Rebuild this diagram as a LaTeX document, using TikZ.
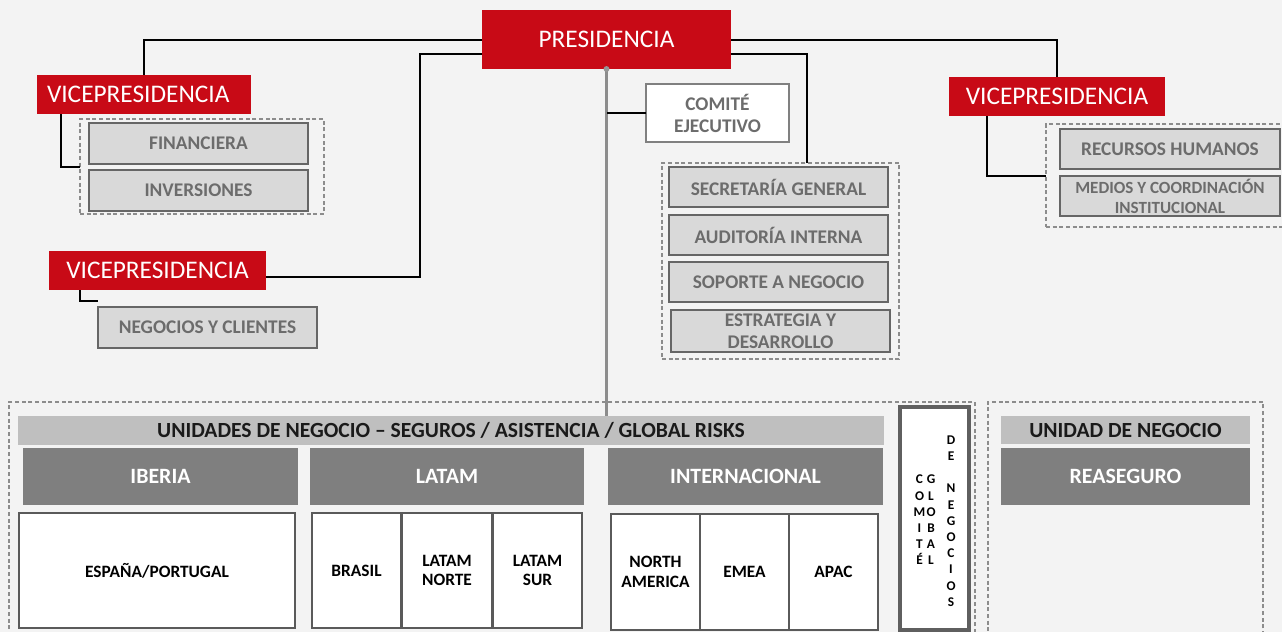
\documentclass[tikz,border=0pt]{standalone}
\usepackage{fontspec}
\setmainfont{Carlito}

\tikzset{every picture/.style={line width=0.75pt}}
\tikzset{
  vpbox/.style={fill={rgb, 255:red, 200; green, 10; blue, 22 }, text=white, inner sep=0pt, outer sep=0pt, font=\fontsize{19}{22}\selectfont},
  areabox/.style={draw={rgb, 255:red, 102; green, 102; blue, 102 }, line width=1.5pt, fill={rgb, 255:red, 217; green, 217; blue, 217 }, text={rgb, 255:red, 108; green, 108; blue, 108 }, inner sep=0pt, outer sep=0pt, align=center, font=\bfseries\fontsize{14.5}{16.5}\selectfont},
  grpbox/.style={draw={rgb, 255:red, 140; green, 140; blue, 140 }, line width=1.1pt, dash pattern={on 3pt off 2pt}, inner sep=0pt, outer sep=0pt},
  barbox/.style={fill={rgb, 255:red, 191; green, 191; blue, 191 }, text={rgb, 255:red, 26; green, 26; blue, 26 }, inner sep=0pt, outer sep=0pt, font=\bfseries\fontsize{16.2}{18}\selectfont},
  regionbox/.style={fill={rgb, 255:red, 127; green, 127; blue, 127 }, text=white, inner sep=0pt, outer sep=0pt, font=\bfseries\fontsize{16.4}{18}\selectfont},
  countrybox/.style={draw={rgb, 255:red, 90; green, 90; blue, 90 }, line width=1.2pt, fill=white, text=black, inner sep=0pt, outer sep=0pt, align=center, font=\bfseries\fontsize{13}{14.5}\selectfont},
  link/.style={draw=black, line width=1.5pt},
  spine/.style={draw={rgb, 255:red, 140; green, 140; blue, 140 }, line width=2pt},
  cgtext/.style={inner sep=0pt, align=center, font=\bfseries\fontsize{10}{12.15}\selectfont}
}

\begin{document}
\begin{tikzpicture}[x=0.75pt,y=0.75pt,yscale=-1,xscale=1]
\useasboundingbox (0,0) rectangle (1282,632);
\clip (0,0) rectangle (1282,632);
%Shape: Background
\fill[fill={rgb, 255:red, 243; green, 243; blue, 243 }] (0,0) rectangle (1282,632);

%Shape: Presidencia and vicepresidencias
\node[vpbox, minimum width=186.75pt, minimum height=44.25pt] (pres) at (606.5,39.5) {PRESIDENCIA};
\node[vpbox, minimum width=160.5pt, minimum height=29.25pt, text width=145.5pt, align=left] (vpfin) at (144,94.5) {VICEPRESIDENCIA};
\node[vpbox, minimum width=162pt, minimum height=29.25pt] (vprh) at (1057,96.5) {VICEPRESIDENCIA};
\node[vpbox, minimum width=162.75pt, minimum height=29.25pt] (vpneg) at (157.5,270.5) {VICEPRESIDENCIA};

%Shape: Comite ejecutivo
\node[areabox, fill=white, draw={rgb, 255:red, 128; green, 128; blue, 128 }, minimum width=107.25pt, minimum height=43.5pt] (comite) at (717.5,113) {COMITÉ\\EJECUTIVO};

%Shape: Financiera group
\node[grpbox, minimum width=183pt, minimum height=71.25pt] (grpfin) at (202,166.5) {};
\node[areabox, minimum width=164.25pt, minimum height=30.75pt] (fin) at (198.5,143.5) {FINANCIERA};
\node[areabox, minimum width=164.25pt, minimum height=30.75pt] (inv) at (198.5,190.5) {INVERSIONES};

%Shape: Negocios y clientes
\node[areabox, minimum width=164.25pt, minimum height=30.75pt] (negcli) at (207.5,327.5) {NEGOCIOS Y CLIENTES};

%Shape: Recursos humanos group
\node[grpbox, minimum width=181.5pt, minimum height=77.25pt] (grprh) at (1167,175.5) {};
\node[areabox, minimum width=165pt, minimum height=30pt] (rrhh) at (1170,149) {RECURSOS HUMANOS};
\node[areabox, minimum width=165pt, minimum height=30pt, font=\bfseries\fontsize{12.8}{15}\selectfont] (medios) at (1170,196) {MEDIOS Y COORDINACIÓN\\INSTITUCIONAL};

%Shape: Secretaria group
\node[grpbox, minimum width=177.75pt, minimum height=147pt] (grpsec) at (780.5,261) {};
\node[areabox, minimum width=164.25pt, minimum height=30pt] (secgen) at (778.5,187) {SECRETARÍA GENERAL};
\node[areabox, minimum width=164.25pt, minimum height=30pt] (audit) at (778.5,235) {AUDITORÍA INTERNA};
\node[areabox, minimum width=164.25pt, minimum height=30pt] (soporte) at (778.5,282) {SOPORTE A NEGOCIO};
\node[areabox, minimum width=164.25pt, minimum height=31.5pt] (estrat) at (780.5,331) {ESTRATEGIA Y\\DESARROLLO};

%Shape: Business units
\node[grpbox, minimum width=724.5pt, minimum height=178.5pt] (grpbu) at (492,521) {};
\node[grpbox, minimum width=206.25pt, minimum height=178.5pt] (grpre) at (1125.5,521) {};
\node[barbox, minimum width=649.5pt, minimum height=21.75pt] (unibar) at (451,430.5) {UNIDADES DE NEGOCIO – SEGUROS / ASISTENCIA / GLOBAL RISKS};
\node[regionbox, minimum width=206.25pt, minimum height=42.75pt] (iberia) at (160.5,476.5) {IBERIA};
\node[regionbox, minimum width=205.5pt, minimum height=42.75pt] (latam) at (447,476.5) {LATAM};
\node[regionbox, minimum width=206.25pt, minimum height=42.75pt] (intl) at (745.5,476.5) {INTERNACIONAL};
\node[countrybox, minimum width=207pt, minimum height=86.25pt] (espana) at (157,570.5) {ESPAÑA/PORTUGAL};
\node[countrybox, minimum width=66.75pt, minimum height=86.25pt] (brasil) at (356.5,570.5) {BRASIL};
\node[countrybox, minimum width=67.5pt, minimum height=86.25pt] (latnorte) at (447,570.5) {LATAM\\NORTE};
\node[countrybox, minimum width=66.75pt, minimum height=86.25pt] (latsur) at (537.5,570.5) {LATAM\\SUR};
\node[countrybox, minimum width=66.75pt, minimum height=87pt] (northam) at (655.5,572) {NORTH\\AMERICA};
\node[countrybox, minimum width=66.75pt, minimum height=87pt] (emea) at (744.5,572) {EMEA};
\node[countrybox, minimum width=66.75pt, minimum height=87pt] (apac) at (833.5,572) {APAC};

%Shape: Comite global de negocios
\node[countrybox, draw={rgb, 255:red, 95; green, 95; blue, 95 }, line width=3.5pt, minimum width=51.75pt, minimum height=167.25pt] (cgbox) at (934.5,518.5) {};
\node[cgtext] (cgcomite) at (919.5,520) {C\\O\\M\\I\\T\\É};
\node[cgtext] (cgglobal) at (931,520) {G\\L\\O\\B\\A\\L};
\node[cgtext] (cgnegocios) at (951,521) {D\\E\\[12.15pt]N\\E\\G\\O\\C\\I\\O\\S};

%Shape: Reaseguro
\node[barbox, minimum width=186.75pt, minimum height=21pt] (undbar) at (1125.5,430) {UNIDAD DE NEGOCIO};
\node[regionbox, minimum width=186.75pt, minimum height=42.75pt] (reaseg) at (1125.5,476.5) {REASEGURO};

%Straight Lines
\coordinate (kneeL) at (420,54);
\coordinate (kneeLB) at (420,277);
\coordinate (kneeR) at (807,54);
\draw[link] (pres.west) -| (vpfin.north);
\draw[link] (pres.east) -| (vprh.north);
\draw[link] (pres.west |- kneeL) -- (kneeL) -- (kneeLB) -- (vpneg.east |- kneeLB);
\draw[link] (pres.east |- kneeR) -- (kneeR) -- (kneeR |- grpsec.north);
\draw[link] ([xshift=18pt]vpfin.south west) |- (grpfin.west);
\draw[link] ([xshift=23.25pt]vpneg.south west) |- ([yshift=-4.5pt]negcli.north west);
\draw[link] ([xshift=28.5pt]vprh.south west) |- (grprh.west);
\draw[spine] (pres.south) -- (pres.south |- unibar.north);
\draw[link] (comite.west) -- (comite.west -| pres.south);
\fill[fill={rgb, 255:red, 150; green, 150; blue, 150 }] (pres.south) circle (2.2pt);

\end{tikzpicture}
\end{document}
